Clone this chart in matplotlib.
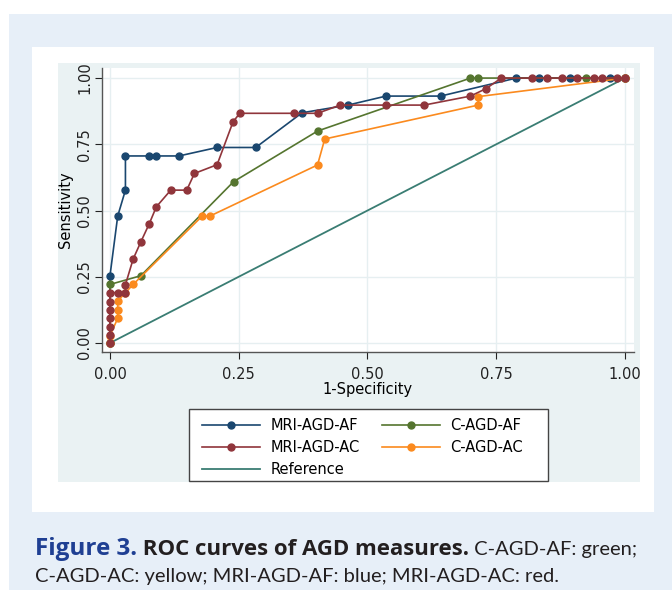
import matplotlib.pyplot as plt
from matplotlib.patches import Rectangle

# -----------------------
# DATA
# -----------------------
mri_af_x = [0.0, 0.0, 0.015, 0.03, 0.03, 0.076, 0.09, 0.134, 0.208, 0.283, 0.373,
            0.462, 0.536, 0.642, 0.789, 0.833, 0.893, 0.97, 1.0]
mri_af_y = [0.0, 0.254, 0.479, 0.577, 0.706, 0.706, 0.706, 0.706, 0.738, 0.738, 0.869,
            0.898, 0.932, 0.932, 1.0, 1.0, 1.0, 1.0, 1.0]

mri_ac_x = [0.0, 0.0, 0.0, 0.0, 0.0, 0.0, 0.0, 0.015, 0.03, 0.03, 0.045, 0.06, 0.076,
            0.09, 0.118, 0.149, 0.164, 0.208, 0.239, 0.252, 0.358, 0.403, 0.447,
            0.536, 0.61, 0.70, 0.73, 0.76, 0.819, 0.848, 0.878, 0.907, 0.939,
            0.955, 0.984, 1.0]
mri_ac_y = [0.0, 0.03, 0.06, 0.093, 0.125, 0.156, 0.19, 0.19, 0.19, 0.22, 0.317, 0.382,
            0.449, 0.514, 0.577, 0.577, 0.64, 0.673, 0.835, 0.867, 0.867, 0.867,
            0.898, 0.898, 0.898, 0.932, 0.96, 1.0, 1.0, 1.0, 1.0, 1.0, 1.0,
            1.0, 1.0, 1.0]

c_af_x = [0.0, 0.0, 0.06, 0.24, 0.403, 0.70, 0.715, 0.924, 1.0]
c_af_y = [0.0, 0.221, 0.254, 0.609, 0.80, 1.0, 1.0, 1.0, 1.0]

c_ac_x = [0.0, 0.0, 0.015, 0.015, 0.015, 0.03, 0.045, 0.179, 0.194, 0.403, 0.417,
          0.715, 0.715, 1.0]
c_ac_y = [0.0, 0.028, 0.093, 0.125, 0.158, 0.19, 0.221, 0.479, 0.479, 0.672, 0.77,
          0.898, 0.93, 1.0]

ref_x = [0.0, 1.0]
ref_y = [0.0, 1.0]

ticks = [0.0, 0.25, 0.5, 0.75, 1.0]
tick_labels = ["0.00", "0.25", "0.50", "0.75", "1.00"]

# -----------------------
# FIGURE + BACKGROUND PANELS (pixel coords)
# -----------------------
W, H = 672, 603
fig = plt.figure(figsize=(W / 100, H / 100), dpi=100)
fig.patch.set_facecolor("white")


def box(x0, y0, x1, y1):
    return [x0 / W, 1 - y1 / H, (x1 - x0) / W, (y1 - y0) / H]


bg = fig.add_axes([0, 0, 1, 1])
bg.set_zorder(-1)
bg.set_xlim(0, W)
bg.set_ylim(H, 0)
bg.axis("off")
bg.add_patch(Rectangle((9, 14), W - 9, 576, color="#e7eff8", lw=0))
bg.add_patch(Rectangle((32, 47), 622, 465, color="white", lw=0))
bg.add_patch(Rectangle((58, 63), 582, 419, color="#eaf2f3", lw=0))
# legend frame
bg.add_patch(Rectangle((189, 409), 359, 72, facecolor="white",
                       edgecolor="#444444", lw=1))

# -----------------------
# PLOT
# -----------------------
ax = fig.add_axes(box(102, 68, 634, 352))
ax.set_facecolor("white")
ax.set_xlim(-0.0155, 1.0175)
ax.set_ylim(-0.034, 1.038)

ax.plot(ref_x, ref_y, color="#3a7d73", lw=1.3, label="Reference")
ax.plot(mri_af_x, mri_af_y, "-o", color="#1a476f", lw=1.2, ms=5, label="MRI-AGD-AF")
ax.plot(c_af_x, c_af_y, "-o", color="#55752f", lw=1.2, ms=5, label="C-AGD-AF")
ax.plot(c_ac_x, c_ac_y, "-o", color="#fb8a1e", lw=1.2, ms=5, label="C-AGD-AC")
ax.plot(mri_ac_x, mri_ac_y, "-o", color="#90353b", lw=1.2, ms=5, label="MRI-AGD-AC")

ax.set_xticks(ticks)
ax.set_xticklabels(tick_labels)
ax.set_yticks(ticks)
ax.set_yticklabels(tick_labels)
ax.tick_params(labelsize=10.5, colors="#222222", length=5, width=0.8)
ax.tick_params(axis="x", pad=6)
ax.tick_params(axis="y", labelrotation=90, pad=2)
for lab in ax.get_yticklabels():
    lab.set_va("center")
ax.grid(color="#e6eff1", lw=1)
ax.set_axisbelow(True)

for s in ["top", "right"]:
    ax.spines[s].set_visible(False)
for s in ["left", "bottom"]:
    ax.spines[s].set_color("#555555")
    ax.spines[s].set_linewidth(1)

ax.set_xlabel("1-Specificity", fontsize=10.5, labelpad=0)
ax.set_ylabel("Sensitivity", fontsize=10.5, labelpad=3)

# legend: left column MRI, right column C-AGD
h = {l.get_label(): l for l in ax.get_lines()}
order = ["MRI-AGD-AF", "MRI-AGD-AC", "Reference", "C-AGD-AF", "C-AGD-AC"]
leg = fig.legend([h[k] for k in order], order, ncol=2, loc="upper left",
                 bbox_to_anchor=(202 / W, 1 - 418 / H), frameon=False,
                 fontsize=10.5, numpoints=1, handlelength=4.0,
                 handletextpad=0.7, labelspacing=0.48, columnspacing=1.5,
                 borderpad=0, borderaxespad=0)

# -----------------------
# CAPTION (pieces laid out on a shared baseline)
# -----------------------
renderer = fig.canvas.get_renderer()
pieces = [
    ("Figure 3.", dict(fontsize=17.5, family=["Open Sans", "DejaVu Sans"],
                       fontweight="bold", color="#1f3f93")),
    (" ROC curves of AGD measures.", dict(fontsize=16, family=["Open Sans", "DejaVu Sans"],
                                          fontweight="bold", color="#231f20")),
    (" C-AGD-AF: green;", dict(fontsize=14.5, family=["Lato", "DejaVu Sans"],
                               color="#231f20")),
]
x = 35
for txt, kw in pieces:
    t = bg.text(x, 555, txt, va="baseline", **kw)
    x = t.get_window_extent(renderer).x1
bg.text(35, 582, "C-AGD-AC: yellow; MRI-AGD-AF: blue; MRI-AGD-AC: red.",
        va="baseline", fontsize=14.5, family=["Lato", "DejaVu Sans"], color="#231f20")

fig.savefig("out.png", dpi=100)
